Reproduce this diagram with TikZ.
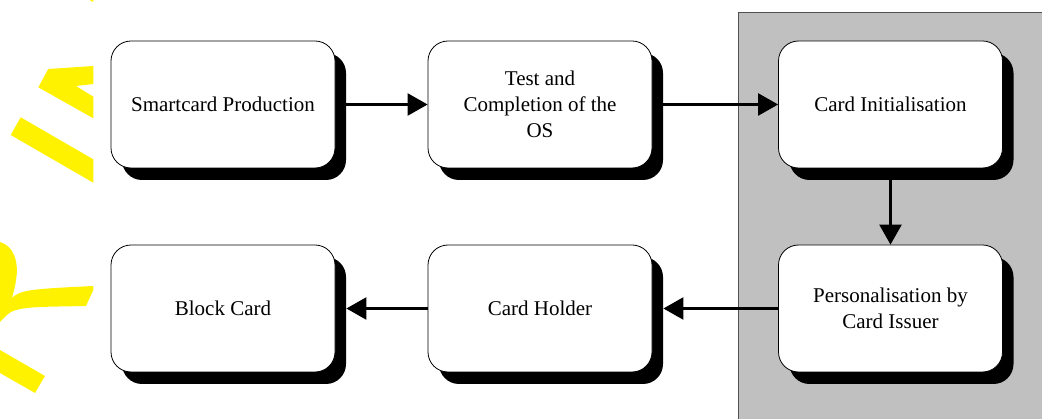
\documentclass[tikz,border=0pt]{standalone}
\usepackage{fontspec}
\setmainfont{Liberation Serif}
\usetikzlibrary{arrows.meta,shadows}

\begin{document}
\begin{tikzpicture}[x=1pt,y=-1pt,
  stage/.style={rectangle, rounded corners=20pt, draw=black, line width=0.8pt,
    fill=white, minimum width=224pt, minimum height=127pt, align=center,
    inner sep=0pt, font=\fontsize{21}{26}\selectfont,
    drop shadow={shadow xshift=11pt, shadow yshift=-12pt, fill=black, opacity=1}},
  flow/.style={line width=2.5pt, -{Triangle[length=20pt,width=22pt]}},
  wmark/.style={fill=yellow, draw=none}]

  \useasboundingbox (0,0) rectangle (1042,419);

  % shaded panel on the right
  \fill[fill={rgb,255:red,192;green,192;blue,192}, draw={rgb,255:red,80;green,80;blue,80}, line width=0.6pt]
    (738,12) rectangle (1046,423);

  % yellow watermark fragments along the left edge
  \fill[wmark] (89.5,0) -- (93.3,0) -- (93.3,2) -- cycle;
  \fill[wmark] (48.3,69) -- (93.3,66) -- (93.3,84) -- (76,86) -- (93.3,96.7)
    -- (93.3,118.3) -- (38.3,87.3) -- cycle;
  \fill[wmark] (20.7,117.3) -- (93.3,159.3) -- (93.3,182.7) -- (10.7,135) -- cycle;
  \fill[wmark] (0,242) .. controls (14,246) and (19,262) .. (16,280)
    .. controls (15,288) and (13,294) .. (12,298)
    .. controls (20,290) and (30,289) .. (93.3,286) -- (93.3,290) -- (86,306)
    .. controls (40,307) and (15,306) .. (7,315) -- (0,322) -- cycle;
  \fill[wmark] (0,350) -- (45,376) -- (35,393) -- (0,373) -- cycle;

  % process stages
  \node[stage] (prod)  at (223,104.5)   {Smartcard Production};
  \node[stage] (test)  at (540,104.5)   {Test and\\Completion of the\\OS};
  \node[stage] (init)  at (890.5,104.5) {Card Initialisation};
  \node[stage] (pers)  at (890.5,308.5) {Personalisation by\\Card Issuer};
  \node[stage] (hold)  at (540,308.5)   {Card Holder};
  \node[stage] (block) at (223,308.5)   {Block Card};

  % flow between stages
  \draw[flow] ([xshift=11pt]prod.east) -- (test.west);
  \draw[flow] ([xshift=11pt]test.east) -- (init.west);
  \draw[flow] ([yshift=-12pt]init.south) -- (pers.north);
  \draw[flow] (pers.west) -- ([xshift=11pt]hold.east);
  \draw[flow] (hold.west) -- ([xshift=11pt]block.east);
\end{tikzpicture}
\end{document}
